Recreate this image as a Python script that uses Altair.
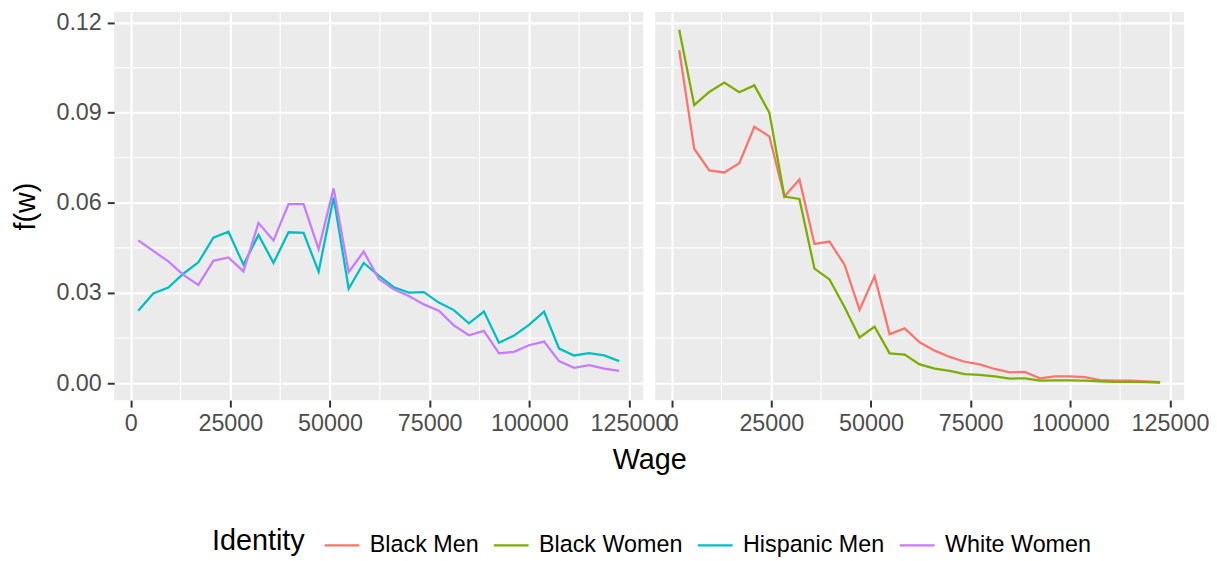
import altair as alt
import pandas as pd

# ---------------- data ----------------
wage = [1900, 5670, 9440, 13210, 16980, 20750, 24520, 28290, 32060, 35830,
        39600, 43370, 47140, 50910, 54680, 58450, 62220, 65990, 69760, 73530,
        77300, 81070, 84840, 88610, 92380, 96150, 99920, 103690, 107460,
        111230, 115000, 118770, 122540]

hispanic_men = [0.0241, 0.0298, 0.0318, 0.0364, 0.0402, 0.0484, 0.0504, 0.0394,
                0.0493, 0.0400, 0.0502, 0.0500, 0.0371, 0.0618, 0.0314, 0.0400,
                0.0358, 0.0319, 0.0301, 0.0303, 0.0268, 0.0243, 0.0199, 0.0238,
                0.0134, 0.0158, 0.0194, 0.0238, 0.0115, 0.0092, 0.0100, 0.0092,
                0.0073]

white_women = [0.0475, 0.0440, 0.0405, 0.0360, 0.0327, 0.0407, 0.0418, 0.0372,
               0.0533, 0.0475, 0.0596, 0.0596, 0.0446, 0.0648, 0.0369, 0.0438,
               0.0347, 0.0312, 0.0290, 0.0262, 0.0241, 0.0192, 0.0159, 0.0174,
               0.0099, 0.0104, 0.0126, 0.0138, 0.0073, 0.0051, 0.0060, 0.0048,
               0.0041]

black_men = [0.1108, 0.0780, 0.0708, 0.0701, 0.0732, 0.0853, 0.0821, 0.0621,
             0.0678, 0.0463, 0.0471, 0.0394, 0.0244, 0.0356, 0.0163, 0.0182,
             0.0136, 0.0108, 0.0087, 0.0071, 0.0062, 0.0047, 0.0036, 0.0037,
             0.0016, 0.0022, 0.0022, 0.0020, 0.0010, 0.0008, 0.0008, 0.0006,
             0.0003]

black_women = [0.1176, 0.0925, 0.0969, 0.1000, 0.0968, 0.0991, 0.0900, 0.0621,
               0.0613, 0.0381, 0.0345, 0.0253, 0.0152, 0.0188, 0.0099, 0.0095,
               0.0062, 0.0048, 0.0041, 0.0030, 0.0027, 0.0022, 0.0015, 0.0016,
               0.0008, 0.0009, 0.0009, 0.0008, 0.0006, 0.0004, 0.0004, 0.0003,
               0.0002]

identities = ["Black Men", "Black Women", "Hispanic Men", "White Women"]
colors = ["#F8766D", "#7CAE00", "#00BFC4", "#C77CFF"]

x_major = [0, 25000, 50000, 75000, 100000, 125000]
x_minor = [12500, 37500, 62500, 87500, 112500]
y_major = [0.0, 0.03, 0.06, 0.09, 0.12]
y_minor = [0.015, 0.045, 0.075, 0.105]

X_DOMAIN = [-4132, 128572]
Y_DOMAIN = [-0.00567, 0.1235]

FONT = "Liberation Sans"
PANEL_W = 533
PANEL_H = 391
SPACING = 12


def long_frame(series):
    rows = []
    for name, vals in series.items():
        for w, v in zip(wage, vals):
            rows.append({"wage": w, "density": v, "identity": name})
    return pd.DataFrame(rows)


left_df = long_frame({"Hispanic Men": hispanic_men, "White Women": white_women})
right_df = long_frame({"Black Men": black_men, "Black Women": black_women})

xscale = alt.Scale(domain=X_DOMAIN, nice=False, zero=False)
yscale = alt.Scale(domain=Y_DOMAIN, nice=False, zero=False)

color = alt.Color(
    "identity:N",
    scale=alt.Scale(domain=identities, range=colors),
    legend=alt.Legend(
        title="Identity",
        orient="none",
        legendX=98.5,
        legendY=518,
        direction="horizontal",
        columns=4,
        titleOrient="left",
        titleFontSize=29,
        titleFont=FONT,
        titleColor="black",
        titleFontWeight="normal",
        titlePadding=18,
        labelFontSize=23.5,
        labelFont=FONT,
        labelColor="black",
        labelOffset=9,
        columnPadding=9.5,
        symbolType="stroke",
        symbolSize=1225,
        symbolStrokeWidth=2.3,
    ),
)


def panel(df, left):
    xaxis = alt.Axis(
        values=x_major, format="d",
        title="Wage" if left else None,
        titleX=(2 * PANEL_W + SPACING) / 2,
        titleFontSize=29, titleFont=FONT, titleColor="black",
        titleFontWeight="normal", titlePadding=10,
        labelFontSize=23.5, labelFont=FONT, labelColor="#4D4D4D",
        labelPadding=5, labelOverlap=False, labelFlush=False,
        tickSize=7, tickWidth=2, tickColor="#333333",
        domain=False, grid=True, gridColor="white", gridWidth=2.2,
    )
    if left:
        yaxis = alt.Axis(
            values=y_major, format=".2f", title="f(w)",
            titleFontSize=29, titleFont=FONT, titleColor="black",
            titleFontWeight="normal", titlePadding=15.5,
            labelFontSize=23.5, labelFont=FONT, labelColor="#4D4D4D",
            labelPadding=6, labelOverlap=False, labelFlush=False,
            tickSize=7, tickWidth=2, tickColor="#333333",
            domain=False, grid=True, gridColor="white", gridWidth=2.2,
        )
    else:
        yaxis = alt.Axis(
            values=y_major, title=None, labels=False, ticks=False,
            domain=False, grid=True, gridColor="white", gridWidth=2.2,
        )

    vminor = alt.Chart(pd.DataFrame({"wage": x_minor})).mark_rule(
        color="white", strokeWidth=1.1
    ).encode(x=alt.X("wage:Q", scale=xscale, axis=xaxis))
    hminor = alt.Chart(pd.DataFrame({"density": y_minor})).mark_rule(
        color="white", strokeWidth=1.1
    ).encode(y=alt.Y("density:Q", scale=yscale, axis=yaxis))
    lines = alt.Chart(df).mark_line(strokeWidth=2.3).encode(
        x=alt.X("wage:Q", scale=xscale, axis=xaxis),
        y=alt.Y("density:Q", scale=yscale, axis=yaxis),
        color=color,
    )
    return alt.layer(vminor, hminor, lines).properties(width=PANEL_W, height=PANEL_H)


chart = alt.hconcat(
    panel(left_df, True), panel(right_df, False),
    spacing=SPACING, bounds="flush",
).resolve_scale(color="shared").properties(
    padding={"left": 3, "top": 0, "right": 0, "bottom": 0},
    background="white",
).configure_view(fill="#EBEBEB", stroke=None)

chart.save("out.html", embed_options={"renderer": "svg", "actions": False})
